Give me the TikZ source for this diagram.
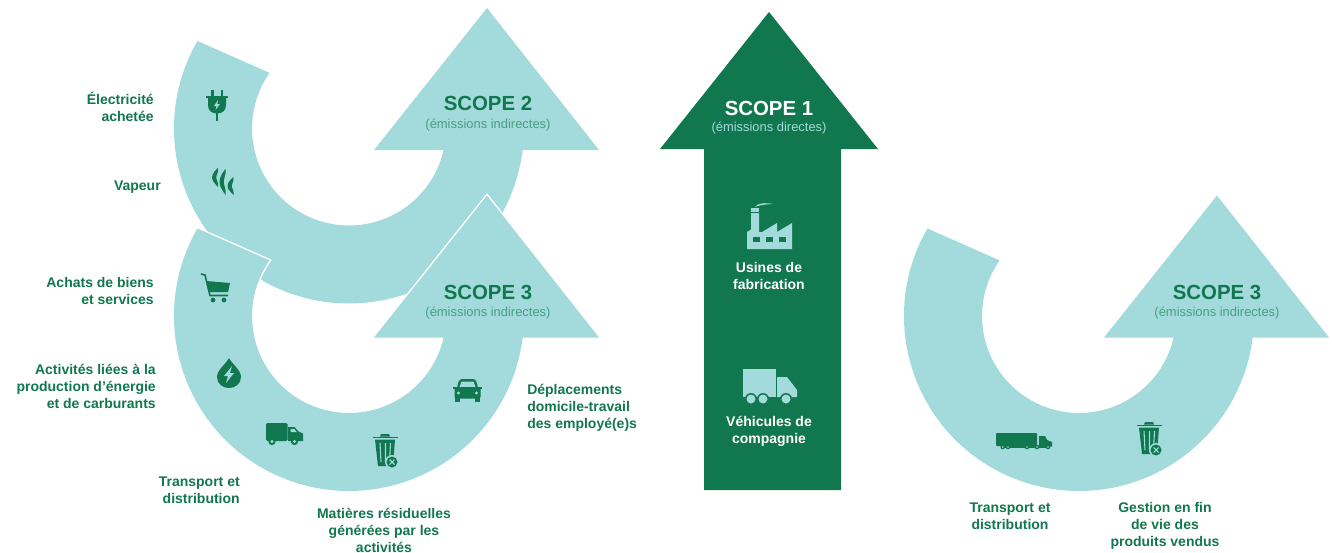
\documentclass[tikz,border=0pt]{standalone}
\usepackage{fontspec}
\setmainfont{Liberation Sans}
\definecolor{teal}{HTML}{A3DADB}
\definecolor{forest}{HTML}{11774E}
\definecolor{subgreen}{HTML}{45A082}
\newcommand{\curvedarrow}{(150:175) arc[start angle=150,end angle=352.94,radius=175] -- (250,-21.5) -- (138,120.5) -- (25,-21.5) -- (94.6,-21.5) arc[start angle=347.2,end angle=145,radius=97] -- cycle}
\newcommand{\boltshape}[1]{\fill[#1] (3,-7)--(-5,3)--(-1,3)--(-3,10)--(5,0)--(1,0)--cycle;}
\newcommand{\iconplug}[2]{\begin{scope}[shift={(#1,#2)},fill=forest]
\fill (-6,-15) rectangle (-3.5,-9); \fill (3.5,-15) rectangle (6,-9);
\fill (-11,-9.5) rectangle (11,-7);
\fill (-9,-7.5) -- (9,-7.5) -- (9,0) .. controls (9,6) and (5,8.5) .. (0,8.5) .. controls (-5,8.5) and (-9,6) .. (-9,0) -- cycle;
\fill (-1.2,8) rectangle (1.2,16);
\fill[teal] (1,-5)--(-3,1)--(-0.5,1)--(-1.5,5)--(3,-1)--(0.3,-1)--cycle;
\end{scope}}
\newcommand{\flame}[3]{\begin{scope}[shift={(#1,#2)},yscale=#3,fill=forest]
\fill (0,0) .. controls (-5,4) and (-7.5,9) .. (-5,13) .. controls (-4,15.5) and (-1,17) .. (0,19) .. controls (1,14) and (-2.5,12) .. (-1.5,8) .. controls (-1,5) and (1,3) .. (0,0) -- cycle;
\end{scope}}
\newcommand{\iconsteam}{\flame{218}{168}{1}\flame{225.5}{169}{1.37}\flame{233.5}{177}{0.95}}
\newcommand{\iconcart}[2]{\begin{scope}[shift={(#1,#2)},fill=forest]
\fill (-9,-7)--(15,-5)--(13,4)--(-6.5,4)--cycle;
\draw[forest,line width=1.2pt] (-14,-14)--(-10,-13)--(-5,7.5)--(13,7.5);
\fill (-2,12) circle[radius=2.4]; \fill (9,12) circle[radius=2.4];
\end{scope}}
\newcommand{\icondrop}[2]{\begin{scope}[shift={(#1,#2)},fill=forest]
\fill (0,-15) .. controls (3,-9) and (12,-3) .. (12,4) .. controls (12,11) and (6,15) .. (0,15) .. controls (-6,15) and (-12,11) .. (-12,4) .. controls (-12,-3) and (-3,-9) .. (0,-15) -- cycle;
\boltshape{teal}
\end{scope}}
\newcommand{\iconvan}[2]{\begin{scope}[shift={(#1,#2)},fill=forest]
\fill[rounded corners=1pt] (-18.5,-10.5) rectangle (3,7.5);
\fill (3.5,-6.5)--(10,-6.5)--(14,-2)--(18.5,0)--(18.5,7.5)--(3.5,7.5)--cycle;
\fill[teal] (6,-4.5)--(10,-4.5)--(12,-1.5)--(6,-1.5)--cycle;
\fill (-12.5,8) circle[radius=3.6]; \fill[teal] (-12.5,8) circle[radius=1.6];
\fill (10,8) circle[radius=3.6]; \fill[teal] (10,8) circle[radius=1.6];
\end{scope}}
\newcommand{\iconbin}[2]{\begin{scope}[shift={(#1,#2)},fill=forest]
\fill (-4,-16)--(4,-16)--(5,-13.5)--(-5,-13.5)--cycle;
\fill (-12.5,-13.5) rectangle (12.5,-11.8);
\fill (-10,-10.5)--(10,-10.5)--(8,16)--(-7,16)--cycle;
\draw[teal,line width=.8pt] (-5,-7)--(-4,12) (0.5,-7)--(0.5,12) (5.5,-7)--(4.5,12);
\fill[teal] (7,12) circle[radius=7];
\fill (7,12) circle[radius=5.5];
\draw[teal,line width=.8pt] (4.5,9.5)--(9.5,14.5) (9.5,9.5)--(4.5,14.5);
\end{scope}}
\newcommand{\iconcar}[2]{\begin{scope}[shift={(#1,#2)},fill=forest]
\fill[rounded corners=2pt] (-11,-2)--(-8,-11.5)--(8,-11.5)--(11,-2)--cycle;
\fill[teal] (-8,-3.5)--(-6,-9)--(6,-9)--(8,-3.5)--cycle;
\fill[rounded corners=1pt] (-13,-3) rectangle (13,8);
\fill (-14.5,-3.5) rectangle (14.5,-1.5);
\fill (-12.5,7) rectangle (-7.5,11.5); \fill (7.5,7) rectangle (12.5,11.5);
\fill[teal] (-9,2.5) circle[radius=1.6]; \fill[teal] (9,2.5) circle[radius=1.6];
\end{scope}}
\newcommand{\iconlorry}[2]{\begin{scope}[shift={(#1,#2)},fill=forest]
\fill[rounded corners=.6pt] (-28,-8) rectangle (13,5);
\fill (15,-5)--(21,-5)--(23,-1)--(28,1)--(28,5.5)--(15,5.5)--cycle;
\fill (-21,5) rectangle (26,6.5);
\foreach \wx in {-21.3,-16,3,13,24} {\fill (\wx,6) circle[radius=2.3]; \fill[teal] (\wx,6) circle[radius=.8];}
\end{scope}}
\newcommand{\iconfactory}[2]{\begin{scope}[shift={(#1,#2)},fill=teal]
\fill (0,46)--(0,29)--(4,26.5)--(4,10)--(12,10)--(12,29)--(15,29)--(30,20)--(30,29)--(45,20)--(45,46)--cycle;
\fill (4,5) rectangle (12,9);
\fill (8,4) .. controls (10,0) and (18,-0.5) .. (26,1) .. controls (20,1.5) and (14,1.5) .. (8,4) -- cycle;
\fill[forest] (6,34) rectangle (13,39); \fill[forest] (18.7,34) rectangle (26,39); \fill[forest] (32,34) rectangle (39,39);
\end{scope}}
\newcommand{\iconbigtruck}[2]{\begin{scope}[shift={(#1,#2)},fill=teal]
\fill (-26,-17) rectangle (7,11);
\fill (8,-9)--(18,-9)--(28,4)--(28,11)--(8,11)--cycle;
\foreach \wx in {-18,-6,17} {\fill[forest] (\wx,13) circle[radius=6]; \fill (\wx,13) circle[radius=4.5];}
\end{scope}}
\tikzset{
 scopetitle/.style={font=\fontsize{15.3}{18}\selectfont\bfseries,text=forest,inner sep=0pt},
 scopesub/.style={font=\fontsize{9.7}{11}\selectfont,text=subgreen,inner sep=0pt},
 lab/.style={font=\fontsize{10.5}{12.75}\selectfont\bfseries,text=forest,inner sep=0pt},
 lableft/.style={lab,align=right,anchor=east},
 labmid/.style={lab,align=center,anchor=center},
 labstart/.style={lab,align=left,anchor=west},
 labwhite/.style={labmid,text=white},
 flatband/.style={fill=teal},
 cutband/.style={fill=teal,preaction={draw=white,line width=2.2pt,line join=miter}},
}
\begin{document}
\begin{tikzpicture}[x=.75pt,y=-.75pt]
\useasboundingbox (0,0) rectangle (1332,553);
% Scope 2
\begin{scope}[x=.75pt,y=.75pt,shift={(349,-128.5)}]
\path[flatband] \curvedarrow;
\end{scope}
% Scope 3 left
\begin{scope}[x=.75pt,y=.75pt,shift={(349,-316)}]
\path[cutband] \curvedarrow;
\end{scope}
% Scope 3 right
\begin{scope}[x=.75pt,y=.75pt,shift={(1079,-316)}]
\path[flatband] \curvedarrow;
\end{scope}
% Scope 1
\fill[forest] (769,12) -- (878,149) -- (841,149) -- (841,490) -- (704,490) -- (704,149) -- (660,149) -- cycle;
% icons
\iconplug{217}{105}
\iconsteam
\iconcart{215}{288}
\icondrop{229}{373}
\iconvan{284.5}{433.5}
\iconbin{385}{450}
\iconcar{467.5}{390.5}
\iconfactory{747}{203}
\iconbigtruck{769}{386}
\iconlorry{1024}{441}
\iconbin{1149}{438}
% titles
\node[scopetitle] (s2) at (488,103) {SCOPE 2};
\node[scopesub] (s2b) at (488,125.5) {(émissions indirectes)};
\node[scopetitle] (s3) at (488,292) {SCOPE 3};
\node[scopesub] (s3b) at (488,313.5) {(émissions indirectes)};
\node[scopetitle] (s3r) at (1217,292) {SCOPE 3};
\node[scopesub] (s3rb) at (1217,313.5) {(émissions indirectes)};
\node[scopetitle,text=white] (s1) at (769,108) {SCOPE 1};
\node[scopesub,text=teal] (s1b) at (769,128.5) {(émissions directes)};
% labels
\node[lableft] (l1) at (154,107) {Électricité\\achetée};
\node[lableft] (l2) at (161,187) {Vapeur};
\node[lableft] (l3) at (154,290.5) {Achats de biens\\et services};
\node[lableft] (l4) at (156,386) {Activités liées à la\\production d'énergie\\et de carburants};
\node[lableft] (l5) at (240,490) {Transport et\\distribution};
\node[labmid] (l6) at (384,530) {Matières résiduelles\\générées par les\\activités};
\node[labstart] (l7) at (527,407.5) {Déplacements\\domicile-travail\\des employé(e)s};
\node[labmid] (l8) at (1010,516.5) {Transport et\\distribution};
\node[labmid] (l9) at (1165,525.5) {Gestion en fin\\de vie des\\produits vendus};
\node[labwhite] (l10) at (769,276) {Usines de\\fabrication};
\node[labwhite] (l11) at (769,431.5) {Véhicules de\\compagnie};
\end{tikzpicture}
\end{document}
